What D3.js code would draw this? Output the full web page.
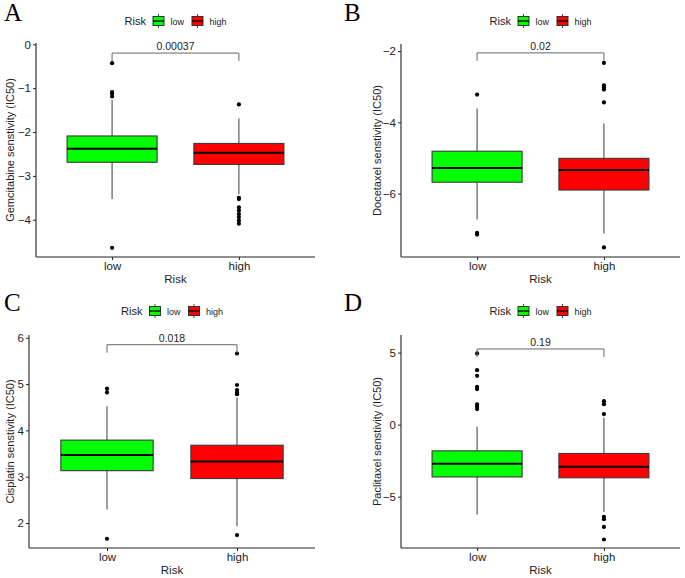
<!DOCTYPE html>
<html><head><meta charset="utf-8">
<script src="https://cdn.jsdelivr.net/npm/d3@7"></script>
<style>body{margin:0;background:#fff}svg{display:block}</style>
</head><body><svg id="c" width="685" height="578"></svg>
<script>
const groups = ["low", "high"];
const groupColors = ["#00FF00", "#FF0000"];
const panelLetters = ["A", "B", "C", "D"];
const yTitles = ["Gemcitabine senstivity (IC50)", "Docetaxel senstivity (IC50)", "Cisplatin senstivity (IC50)", "Paclitaxel senstivity (IC50)"];
const yDomains = [[-4.85, 0.03], [-7.78, -1.8], [1.46, 6.06], [-8.56, 6.22]];
const yTicks = [[0, -1, -2, -3, -4], [-2, -4, -6], [2, 3, 4, 5, 6], [-5, 0, 5]];
const pValues = ["0.00037", "0.02", "0.018", "0.19"];
const bracketY = [-0.2, -2.05, 5.85, 5.25];
// box stats per panel: [whiskerLow, q1, median, q3, whiskerHigh] for low, high
const lowStats = [
  [-3.53, -2.69, -2.38, -2.09, -1.27],
  [-6.73, -5.68, -5.28, -4.81, -3.61],
  [2.29, 3.13, 3.47, 3.79, 4.52],
  [-6.24, -3.63, -2.72, -1.82, -0.15]
];
const highStats = [
  [-3.42, -2.74, -2.47, -2.26, -1.69],
  [-7.12, -5.90, -5.34, -5.01, -4.03],
  [1.93, 2.96, 3.33, 3.68, 4.71],
  [-6.06, -3.69, -2.93, -2.00, 0.47]
];
const lowOutliers = [
  [-0.43, -1.09, -1.13, -1.19, -4.64],
  [-3.22, -7.10, -7.15],
  [4.90, 4.82, 1.66],
  [4.94, 3.78, 3.39, 2.63, 2.47, 1.40, 1.24, 1.08]
];
const highOutliers = [
  [-1.37, -3.50, -3.53, -3.72, -3.79, -3.87, -3.94, -4.02, -4.09],
  [-2.33, -2.96, -3.02, -3.08, -3.44, -7.51],
  [5.66, 4.98, 4.87, 4.82, 4.78, 1.74],
  [1.63, 1.42, 0.73, -6.40, -6.56, -7.10, -7.97]
];

const svg = d3.select("#c");
const layouts = [
  {x0: 36, x1: 315, y0: 43, y1: 257, oy: 0, ox: 0, tx: 10},
  {x0: 401, x1: 680, y0: 44, y1: 257, oy: 0, ox: 340, tx: 377},
  {x0: 29, x1: 315, y0: 335, y1: 548, oy: 290, ox: 0, tx: 10},
  {x0: 401, x1: 680, y0: 335, y1: 548, oy: 290, ox: 340, tx: 377}
];
const FONT = "Liberation Sans, Arial, sans-serif";

layouts.forEach((L, i) => {
  const g = svg.append("g");
  const x = d3.scalePoint().domain(groups).range([L.x0, L.x1]).padding(0.6);
  const step = x.step();
  const bw = step * 0.71;
  const y = d3.scaleLinear().domain(yDomains[i]).range([L.y1, L.y0]);

  // letter
  g.append("text").attr("x", L.ox + 4).attr("y", L.oy + 21)
    .attr("font-family", "Liberation Serif, Times New Roman, serif").attr("font-size", 25)
    .attr("fill", "#000").text(panelLetters[i]);

  // legend
  const leg = g.append("g");
  const cx = (L.x0 + L.x1) / 2;
  const ly = L.oy + 21;
  let lx = 0;
  leg.append("text").attr("x", lx).attr("y", ly + 4).attr("font-family", FONT).attr("font-size", 11).attr("fill", "#222").text("Risk");
  lx += 28;
  groups.forEach((gname, k) => {
    const kg = leg.append("g");
    kg.append("line").attr("x1", lx + 6).attr("x2", lx + 6).attr("y1", ly - 7).attr("y2", ly + 7).attr("stroke", "#444").attr("stroke-width", 1);
    kg.append("rect").attr("x", lx + 0.5).attr("y", ly - 4.5).attr("width", 11).attr("height", 9).attr("fill", groupColors[k]).attr("stroke", "#333").attr("stroke-width", 1);
    kg.append("line").attr("x1", lx + 0.5).attr("x2", lx + 11.5).attr("y1", ly).attr("y2", ly).attr("stroke", "#000").attr("stroke-width", 1.3);
    lx += 18;
    leg.append("text").attr("x", lx).attr("y", ly + 3.5).attr("font-family", FONT).attr("font-size", 9).attr("fill", "#222").text(gname);
    lx += k === 0 ? 21 : 20;
  });
  const bb = leg.node().getBBox();
  leg.attr("transform", `translate(${cx - bb.width / 2},0)`);

  // boxes
  [lowStats[i], highStats[i]].forEach((s, k) => {
    const xc = x(groups[k]);
    g.append("line").attr("x1", xc).attr("x2", xc).attr("y1", y(s[4])).attr("y2", y(s[3])).attr("stroke", "#4d4d4d").attr("stroke-width", 1.1);
    g.append("line").attr("x1", xc).attr("x2", xc).attr("y1", y(s[1])).attr("y2", y(s[0])).attr("stroke", "#4d4d4d").attr("stroke-width", 1.1);
    g.append("rect").attr("x", xc - bw / 2).attr("y", y(s[3])).attr("width", bw).attr("height", y(s[1]) - y(s[3]))
      .attr("fill", groupColors[k]).attr("stroke", "#3a3a3a").attr("stroke-width", 1.1);
    g.append("line").attr("x1", xc - bw / 2).attr("x2", xc + bw / 2).attr("y1", y(s[2])).attr("y2", y(s[2])).attr("stroke", "#000").attr("stroke-width", 2);
  });
  [lowOutliers[i], highOutliers[i]].forEach((arr, k) => {
    g.selectAll(null).data(arr).enter().append("circle")
      .attr("cx", x(groups[k])).attr("cy", d => y(d)).attr("r", 2.1).attr("fill", "#000");
  });

  // bracket
  const by = y(bracketY[i]);
  const xl = x("low"), xh = x("high");
  g.append("path").attr("d", `M${xl},${by + 8}V${by}H${xh}V${by + 8}`).attr("fill", "none").attr("stroke", "#666").attr("stroke-width", 1);
  g.append("text").attr("x", (xl + xh) / 2).attr("y", by - 3).attr("text-anchor", "middle")
    .attr("font-family", FONT).attr("font-size", 10.5).attr("fill", "#222").text(pValues[i]);

  // axes
  const ya = g.append("g").attr("transform", `translate(${L.x0},0)`)
    .call(d3.axisLeft(y).tickValues(yTicks[i]).tickSize(3).tickPadding(2).tickFormat(d => d < 0 ? "\u2212" + Math.abs(d) : d));
  ya.select(".domain").attr("d", `M0,${L.y0}V${L.y1}`).attr("stroke", "#222").attr("stroke-width", 1.1);
  ya.selectAll(".tick line").attr("stroke", "#222");
  ya.selectAll("text").attr("font-family", FONT).attr("font-size", 11.5).attr("fill", "#222");

  const xa = g.append("g").attr("transform", `translate(0,${L.y1})`)
    .call(d3.axisBottom(x).tickSize(3).tickPadding(2));
  xa.select(".domain").attr("d", `M${L.x0},0H${L.x1}`).attr("stroke", "#222").attr("stroke-width", 1.1);
  xa.selectAll(".tick line").attr("stroke", "#222");
  xa.selectAll("text").attr("font-family", FONT).attr("font-size", 11.5).attr("fill", "#222");

  g.append("text").attr("x", (L.x0 + L.x1) / 2).attr("y", L.y1 + 26).attr("text-anchor", "middle")
    .attr("font-family", FONT).attr("font-size", 11.5).attr("fill", "#222").text("Risk");
  g.append("text").attr("transform", `translate(${L.tx + 4},${(L.y0 + L.y1) / 2}) rotate(-90)`).attr("text-anchor", "middle")
    .attr("font-family", FONT).attr("font-size", 11).attr("fill", "#222").text(yTitles[i]);
});
</script></body></html>
